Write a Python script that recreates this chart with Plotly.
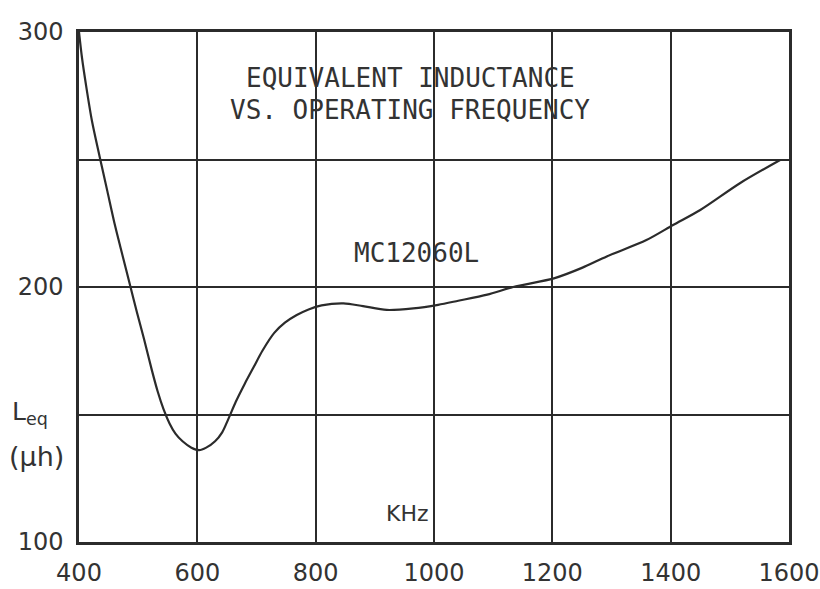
import plotly.graph_objects as go

# Frequency (kHz) and equivalent inductance (uH)
freq_khz = [400, 405, 412, 422, 435, 448, 461, 474, 486, 498, 510, 523, 533, 543,
            553, 563, 575, 590, 603, 615, 630, 642, 652, 665, 680, 695, 710, 730, 748,
            768, 788, 810, 847, 880, 920, 965, 1007, 1041, 1090, 1134, 1204, 1250,
            1292, 1359, 1404, 1450, 1517, 1585]
l_eq_uh = [300, 290, 279, 265, 251, 237.5, 224, 212, 201, 190, 179.5, 167.5, 159, 152,
           146.5, 142.5, 139.5, 137, 136, 137, 139.5, 143, 148, 155, 162, 168.5, 175, 182, 186,
           189, 191.2, 192.8, 193.6, 192.5, 191, 191.6, 193, 194.6, 197, 200, 203.5, 207.5,
           212, 218.4, 224.3, 230.2, 240.7, 249.8]

x_ticks = [400, 600, 800, 1000, 1200, 1400, 1600]
x_tick_text = ["400", "600", "800", "1000", "1200", "1400", "1600"]
y_grid = [100, 150, 200, 250, 300]
y_tick_text = ["100", "", "200", "", "300"]

title_lines = ["EQUIVALENT INDUCTANCE", "VS. OPERATING FREQUENCY"]
curve_label = "MC12060L"
x_unit = "KHz"

ink = "#2b2b2b"

fig = go.Figure()
fig.add_trace(go.Scatter(
    x=freq_khz, y=l_eq_uh, mode="lines",
    line=dict(color=ink, width=2.2, shape="spline", smoothing=0.8),
    showlegend=False, hoverinfo="skip",
))

fig.update_layout(
    width=820, height=589,
    margin=dict(l=79, r=31, t=32, b=47),
    paper_bgcolor="white", plot_bgcolor="white",
    showlegend=False,
    xaxis=dict(
        range=[400, 1600], tickvals=x_ticks, ticktext=x_tick_text,
        showgrid=True, gridcolor=ink, gridwidth=2,
        showline=True, linecolor=ink, linewidth=2.5, mirror=True,
        zeroline=False, ticks="", ticklabelstandoff=7, automargin=False,
        tickfont=dict(family="DejaVu Sans", size=24, color="#333"),
    ),
    yaxis=dict(
        range=[100, 300], tickvals=y_grid, ticktext=y_tick_text,
        showgrid=True, gridcolor=ink, gridwidth=2,
        showline=True, linecolor=ink, linewidth=2.5, mirror=True,
        zeroline=False, ticks="", ticklabelstandoff=8, automargin=False,
        tickfont=dict(family="DejaVu Sans", size=24, color="#333"),
    ),
)

mono = dict(family="DejaVu Sans Mono", size=26, color="#333")
fig.add_annotation(x=1000, y=300, xref="x", yref="y",
                   text=title_lines[0], showarrow=False, font=mono,
                   yshift=-46, xshift=-24)
fig.add_annotation(x=1000, y=300, xref="x", yref="y",
                   text=title_lines[1], showarrow=False, font=mono,
                   yshift=-78, xshift=-24)
fig.add_annotation(x=1000, y=200, xref="x", yref="y", text=curve_label,
                   showarrow=False, font=dict(family="DejaVu Sans Mono", size=26, color="#333"),
                   xshift=-18, yshift=34)
fig.add_annotation(x=1000, y=100, xref="x", yref="y", text=x_unit,
                   showarrow=False, font=dict(family="DejaVu Sans", size=22, color="#333"),
                   xanchor="right", xshift=-3, yshift=29)
fig.add_annotation(x=0, y=150, xref="paper", yref="y", text="L<sub>eq</sub>",
                   showarrow=False, font=dict(family="DejaVu Sans", size=25, color="#333"),
                   xanchor="left", xshift=-69, yshift=2)
fig.add_annotation(x=0, y=150, xref="paper", yref="y", text="(µh)",
                   showarrow=False, font=dict(family="DejaVu Sans", size=27, color="#333"),
                   xanchor="left", xshift=-72, yshift=-42)

fig.write_html("out.html", config={"displayModeBar": False},
               post_script="document.body.style.margin='0px';")
